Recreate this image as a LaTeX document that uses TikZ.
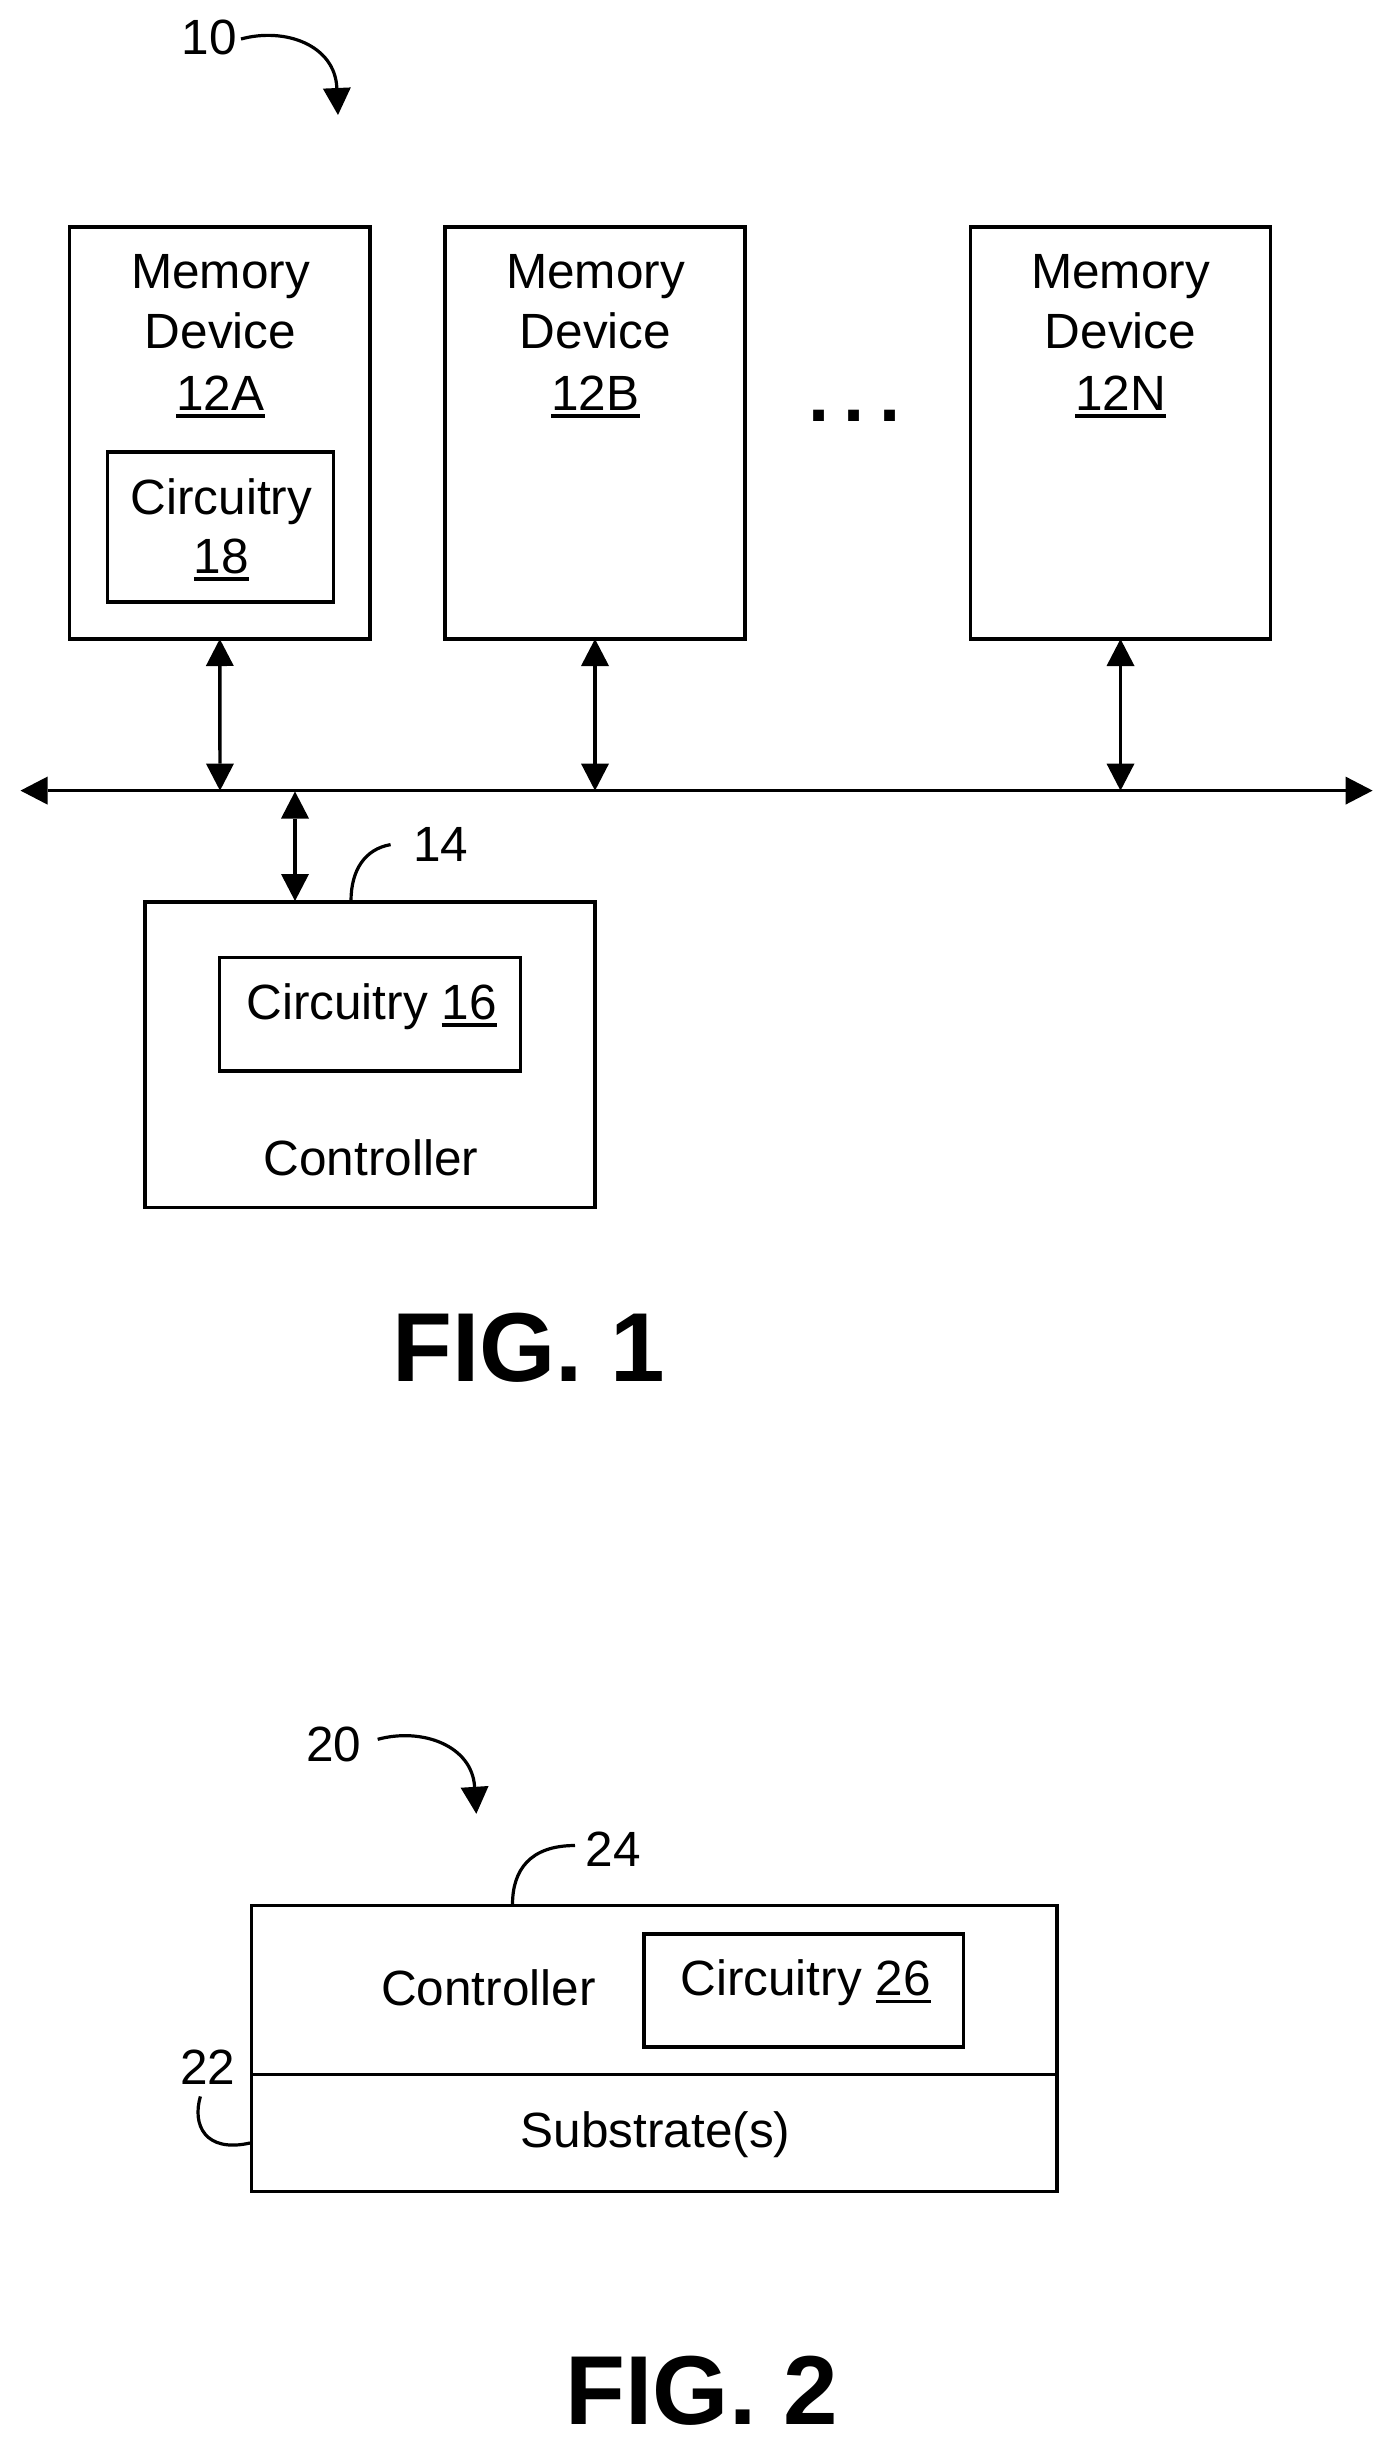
\documentclass[tikz,border=0pt]{standalone}
\usepackage{fontspec}
\setmainfont{Liberation Sans}
\usetikzlibrary{arrows.meta}
\newcommand{\ulnum}[1]{\leavevmode\vtop{\hbox{#1}\kern3.9bp\hrule height 3.4bp}}
\tikzset{
  box/.style={draw=black,line width=3.8bp,inner sep=0pt,outer sep=0pt,line join=miter},
  thinbox/.style={draw=black,line width=3.4bp,inner sep=0pt,outer sep=0pt,line join=miter},
  txt/.style={inner sep=0pt,font=\fontsize{49.5bp}{60bp}\selectfont,align=center,text=black},
  figtxt/.style={inner sep=0pt,font=\fontsize{98bp}{110bp}\selectfont\bfseries,text=black},
  tri/.tip={Triangle[length=27bp,width=28bp,line width=0pt]},
  conn/.style={draw=black,line width=3.4bp,{tri}-{tri}},
  bigarrow/.style={draw=black,line width=3.2bp,-{tri}},
  lead/.style={draw=black,line width=3.2bp},
}
\begin{document}
\begin{tikzpicture}[x=1bp,y=-1bp]
\useasboundingbox (0,0) rectangle (1393,2446);
% FIG. 1
\node[box,minimum width=300.5bp,minimum height=412bp] (ma) at (219.8,433) {};
\node[box,minimum width=300.5bp,minimum height=412bp] (mb) at (595,433) {};
\node[box,minimum width=300bp,minimum height=412bp] (mn) at (1120.5,433) {};
\node[box,minimum width=226bp,minimum height=150bp] (ca) at (220.5,527) {};
\node[box,minimum width=450bp,minimum height=305.5bp] (ctrl) at (370,1054.8) {};
\node[box,minimum width=301bp,minimum height=113.5bp] (c16) at (370,1014.3) {};
\node[txt,anchor=north] (ta) at (220.5,254.5) {Memory\\Device\\[1.5bp]\ulnum{12A}};
\node[txt,anchor=north] (tb) at (595.5,254.5) {Memory\\Device\\[1.5bp]\ulnum{12B}};
\node[txt,anchor=north] (tn) at (1120.5,254.5) {Memory\\Device\\[1.5bp]\ulnum{12N}};
\node[txt,anchor=north] (t18) at (221.5,478.5) {Circuitry\\[-1.5bp]\ulnum{18}};
\node[txt,anchor=base] (t16) at (371.5,1019) {Circuitry \ulnum{16}};
\node[txt,anchor=base] (tc) at (371,1175.4) {Controller};
\node[inner sep=0pt,anchor=base,font=\fontsize{76bp}{80bp}\selectfont\bfseries] (dots) at (854.5,421) {.\kern14bp.\kern14bp.};
\node[txt,anchor=base] (n10) at (209.5,55) {10};
\node[txt,anchor=base] (n14) at (441,861) {14};
\node[figtxt,anchor=base] (f1) at (528.5,1381.7) {FIG. 1};
% bus
\coordinate (busl) at (20.5,790.6);
\coordinate (busr) at (1372.6,790.6);
\coordinate (ba) at (220,790.6);
\coordinate (bb) at (595,790.6);
\coordinate (bn) at (1120.5,790.6);
\coordinate (bc) at (295,791.5);
\coordinate (cc) at (295,901);
\draw[conn] (busl) -- (busr);
\draw[conn] (ma.south) -- (ba);
\draw[conn] (mb.south) -- (bb);
\draw[conn] (mn.south) -- (bn);
\draw[conn] (bc) -- (cc);
% reference leads fig 1
\coordinate (a10s) at (241,39);
\coordinate (a10e) at (338,115);
\draw[bigarrow] (a10s) .. controls (285,27) and (335,45) .. (a10e);
\coordinate (l14a) at (351,901);
\coordinate (l14b) at (390.6,844.6);
\draw[lead] (l14a) .. controls (351,870) and (365,849) .. (l14b);
% FIG. 2
\node[thinbox,minimum width=805.7bp,minimum height=286bp] (outer) at (654.2,2048.7) {};
\coordinate (divl) at (251.3,2074.6);
\coordinate (divr) at (1057,2074.6);
\draw[lead,line width=3.4bp] (divl) -- (divr);
\node[thinbox,minimum width=319.6bp,minimum height=113bp] (c26) at (803.6,1990.5) {};
\node[txt,anchor=base] (tc2) at (488.5,2005) {Controller};
\node[txt,anchor=base] (t26) at (805.5,1995.5) {Circuitry \ulnum{26}};
\node[txt,anchor=base] (ts) at (655.5,2147.8) {Substrate(s)};
\node[txt,anchor=base] (n20) at (334,1761) {20};
\node[txt,anchor=base] (n24) at (613.5,1866) {24};
\node[txt,anchor=base] (n22) at (208,2084) {22};
\node[figtxt,anchor=base] (f2) at (702,2424.6) {FIG. 2};
\coordinate (a20s) at (377.7,1739.3);
\coordinate (a20e) at (476.3,1813.8);
\draw[bigarrow] (a20s) .. controls (421.7,1727.3) and (472,1745.3) .. (a20e);
\coordinate (l24a) at (512.5,1904.5);
\coordinate (l24b) at (575,1845.5);
\draw[lead] (l24a) .. controls (512.5,1870) and (530,1845.5) .. (l24b);
\coordinate (l22a) at (250,2143);
\coordinate (l22b) at (200.4,2096.4);
\draw[lead] (l22a) .. controls (205,2153) and (192,2125) .. (l22b);
\end{tikzpicture}
\end{document}
